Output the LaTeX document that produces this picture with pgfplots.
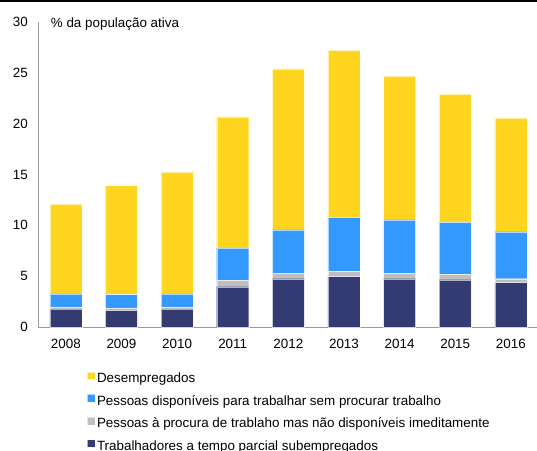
\documentclass[border=0pt]{standalone}
\usepackage{pgfplots}
\pgfplotsset{compat=1.18}
\usepackage{fontspec}
\setmainfont{Liberation Sans}
\definecolor{cyellow}{HTML}{FFD520}
\definecolor{cblue}{HTML}{3399FF}
\definecolor{cgray}{HTML}{BFBFBF}
\definecolor{cnavy}{HTML}{343B72}
\begin{document}
\fontsize{13.4}{15}\selectfont
\begin{tikzpicture}
\path[use as bounding box] (0,0) rectangle (537pt,-450pt);
\draw[black, line width=1.2pt] (0,-1pt) -- (537pt,-1pt);
\begin{axis}[
  at={(38pt,-327pt)}, anchor=south west,
  scale only axis, width=499pt, height=305pt,
  ymin=0, ymax=30, xmin=-0.5, xmax=8.47,
  ybar stacked, bar width=32pt,
  axis x line*=bottom, axis y line*=left,
  axis line style={gray!80, -, line width=0.8pt},
  ytick={0,5,...,30}, xtick=data,
  xticklabels={2008,2009,2010,2011,2012,2013,2014,2015,2016},
  major tick length=0pt,
  /pgf/number format/assume math mode=true,
  ticklabel style={font=\fontsize{13.4}{15}\selectfont},
  yticklabel style={inner sep=0pt, anchor=east, xshift=-10pt},
  xticklabel style={inner sep=0pt, anchor=north, yshift=-12pt},
  every axis plot/.append style={draw=white, draw opacity=0.6, line width=0.4pt},
  legend style={at={(axis description cs:0.0976,-0.1459)}, anchor=north west,
    draw=none, fill=none, inner sep=0pt, row sep=8.6pt, column sep=2pt,
    font=\fontsize{13.4}{15}\selectfont,
    nodes={inner sep=0pt, text height=9.8pt, text depth=2.9pt}},
  legend cell align=left,
  reverse legend,
  legend image code/.code={\fill[#1] (0pt,-0.3pt) rectangle (7.7pt,7.4pt);},
  clip=false,
]
\addplot[fill=cnavy] coordinates {(0,1.77) (1,1.63) (2,1.77) (3,3.96) (4,4.75) (5,4.95) (6,4.75) (7,4.65) (8,4.36)};
\addplot[fill=cgray] coordinates {(0,0.20) (1,0.24) (2,0.20) (3,0.62) (4,0.56) (5,0.52) (6,0.52) (7,0.52) (8,0.39)};
\addplot[fill=cblue] coordinates {(0,1.30) (1,1.31) (2,1.30) (3,3.19) (4,4.26) (5,5.31) (6,5.28) (7,5.12) (8,4.62)};
\addplot[fill=cyellow] coordinates {(0,8.85) (1,10.72) (2,12.00) (3,12.91) (4,15.83) (5,16.42) (6,14.15) (7,12.61) (8,11.21)};
\legend{Trabalhadores a tempo parcial subempregados,
  Pessoas à procura de trablaho mas não disponíveis imeditamente,
  Pessoas disponíveis para trabalhar sem procurar trabalho,
  Desempregados}
\node[anchor=base west, inner sep=0pt] at (axis description cs:0.0255,0.982) {\% da população ativa};
\end{axis}
\end{tikzpicture}
\end{document}
